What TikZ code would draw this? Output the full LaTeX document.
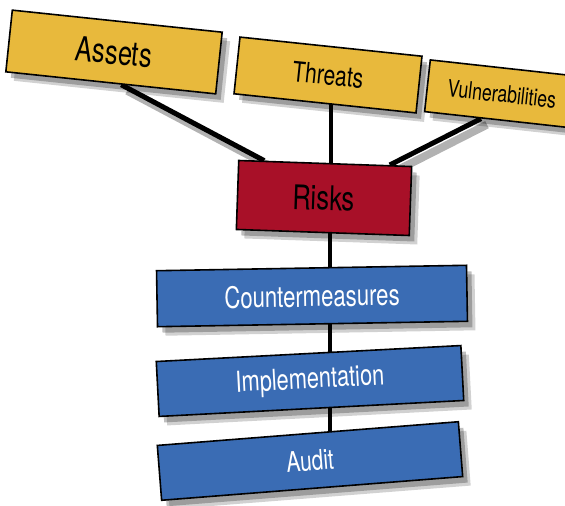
\documentclass[tikz,border=0pt]{standalone}
\usepackage{fontspec}
\setmainfont{TeX Gyre Heros}[FakeStretch=0.75]
\usetikzlibrary{shadows,calc,backgrounds}
\definecolor{assetgold}{RGB}{232,185,60}
\definecolor{riskred}{RGB}{168,16,40}
\definecolor{stepblue}{RGB}{58,108,180}
\tikzset{
  box/.style={draw=black, line width=1.6pt, inner sep=0pt,
    drop shadow={shadow xshift=8pt, shadow yshift=-9pt, fill=black, opacity=.18},
    drop shadow={shadow xshift=5pt, shadow yshift=-6pt, fill=black, opacity=.25}},
  topbox/.style={box, fill=assetgold},
  riskbox/.style={box, fill=riskred},
  stepbox/.style={box, fill=stepblue, text=white},
  link/.style={line width=4pt, black},
  slant/.style={line width=5pt, black},
  slantshadow/.style={line width=8pt, black!30,
    transform canvas={shift={(6pt,-6pt)}}}
}
\newcommand{\fsz}[1]{\fontsize{#1}{#1}\selectfont}
\begin{document}
\begin{tikzpicture}[x=1pt,y=-1pt]
\useasboundingbox (0,0) rectangle (565,506);
\clip (0,0) rectangle (565,506);
\node[topbox, minimum width=211pt, minimum height=62pt, rotate=-6, font=\fsz{34}] (assets) at (114,52) {Assets};
\node[topbox, minimum width=183pt, minimum height=57pt, rotate=-6, font=\fsz{28}] (threats) at (328,75) {Threats};
\node[topbox, minimum width=150pt, minimum height=52pt, rotate=-6.3, font=\fsz{23.5}] (vulns) at (502,94) {Vulnerabilities};
\node[riskbox, minimum width=173pt, minimum height=69pt, rotate=-2, font=\fsz{34}] (risks) at (324,198) {Risks};
\node[stepbox, minimum width=310pt, minimum height=56pt, rotate=1, font=\fsz{29.5}] (counter) at (312,296) {Countermeasures};
\node[stepbox, minimum width=305pt, minimum height=55pt, rotate=3, font=\fsz{29}] (impl) at (310,381) {Implementation};
\node[stepbox, minimum width=302pt, minimum height=55pt, rotate=4.5, font=\fsz{28}] (audit) at (310,461) {Audit};
\begin{scope}[on background layer]
\draw[slantshadow] ($(assets.south west)!0.55!(assets.south east)$) -- ($(risks.north west)!0.15!(risks.north east)$);
\draw[slantshadow] ($(vulns.south west)!0.38!(vulns.south east)$) -- ($(risks.north west)!0.87!(risks.north east)$);
\draw[slant] ($(assets.south west)!0.55!(assets.south east)$) -- ($(risks.north west)!0.15!(risks.north east)$);
\draw[slant] ($(vulns.south west)!0.38!(vulns.south east)$) -- ($(risks.north west)!0.87!(risks.north east)$);
\draw[link] ([xshift=3pt]threats.center) -- ([xshift=3pt]threats.center |- risks.center);
\draw[link] ([xshift=6pt]risks.center) -- ([xshift=6pt]risks.center |- audit.center);
\end{scope}
\end{tikzpicture}
\end{document}
